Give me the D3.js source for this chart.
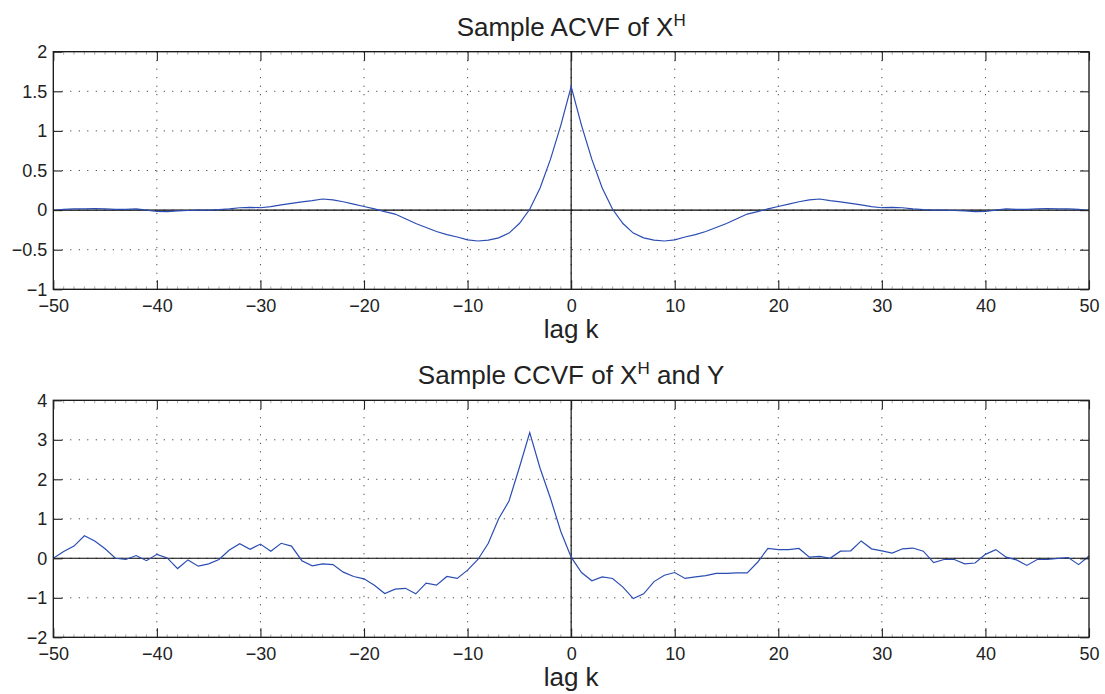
<!DOCTYPE html>
<html>
<head>
<meta charset="utf-8">
<script src="https://cdn.jsdelivr.net/npm/d3@7"></script>
<style>
  html, body { margin: 0; padding: 0; background: #fff; }
  svg { display: block; font-family: "Liberation Sans", Arial, Helvetica, sans-serif; }
</style>
</head>
<body>
<svg id="chart" width="1105" height="694"></svg>
<script>
// lags -50..50
const lags = d3.range(-50, 51);

// sample ACVF of X^H, lag -50 .. 50
const acvf = [
  -0.005, 0.01, 0.015, 0.015, 0.02, 0.015, 0.01, 0.01, 0.015, 0.0,
  -0.015, -0.02, -0.01, -0.005, 0.0, 0.0, 0.005, 0.015, 0.03, 0.035,
  0.03, 0.045, 0.065, 0.085, 0.105, 0.12, 0.14, 0.13, 0.105, 0.075,
  0.045, 0.015, -0.02, -0.05, -0.11, -0.17, -0.22, -0.27, -0.31, -0.34,
  -0.375, -0.39, -0.38, -0.35, -0.29, -0.17, 0.01, 0.28, 0.64, 1.07,
  1.56,
  1.07, 0.64, 0.28, 0.01, -0.17, -0.29, -0.35, -0.38, -0.39, -0.375,
  -0.34, -0.31, -0.27, -0.22, -0.17, -0.11, -0.05, -0.02, 0.015, 0.045,
  0.075, 0.105, 0.13, 0.14, 0.12, 0.105, 0.085, 0.065, 0.045, 0.03,
  0.035, 0.03, 0.015, 0.005, 0.0, 0.0, -0.005, -0.01, -0.02, -0.015,
  0.0, 0.015, 0.01, 0.01, 0.015, 0.02, 0.015, 0.015, 0.01, -0.005
];

// sample CCVF of X^H and Y, lag -50 .. 50
const ccvf = [
  0.0, 0.17, 0.31, 0.57, 0.44, 0.24, 0.0, -0.03, 0.07, -0.06,
  0.10, 0.01, -0.26, -0.04, -0.20, -0.14, -0.03, 0.21, 0.37, 0.23,
  0.36, 0.18, 0.38, 0.31, -0.06, -0.19, -0.14, -0.16, -0.35, -0.46,
  -0.52, -0.68, -0.89, -0.78, -0.76, -0.90, -0.63, -0.68, -0.46, -0.51,
  -0.30, -0.03, 0.38, 1.0, 1.45, 2.3, 3.18, 2.28, 1.52, 0.68,
  0.03,
  -0.36, -0.57, -0.47, -0.51, -0.73, -1.02, -0.90, -0.59, -0.43, -0.36,
  -0.51, -0.47, -0.44, -0.38, -0.38, -0.37, -0.37, -0.10, 0.25, 0.22,
  0.22, 0.25, 0.03, 0.05, 0.0, 0.18, 0.19, 0.44, 0.24, 0.19,
  0.13, 0.24, 0.26, 0.18, -0.11, -0.03, -0.03, -0.14, -0.12, 0.10,
  0.22, 0.03, -0.04, -0.18, -0.03, -0.03, 0.0, 0.02, -0.16, 0.06
];

const xTicks = [-50, -40, -30, -20, -10, 0, 10, 20, 30, 40, 50];
const acvfTicks = [-1, -0.5, 0, 0.5, 1, 1.5, 2];
const ccvfTicks = [-2, -1, 0, 1, 2, 3, 4];

const svg = d3.select("#chart");
const left = 53.3, right = 1089;
const fmt = d => String(d).replace("-", "\u2212");

function drawPanel(top, bottom, values, yTicks, titleParts) {
  const g = svg.append("g");
  const x = d3.scaleLinear().domain([-50, 50]).range([left, right]);
  const y = d3.scaleLinear().domain([yTicks[0], yTicks[yTicks.length - 1]]).range([bottom, top]);

  // dotted grid
  g.selectAll(".vgrid").data(xTicks.slice(1, -1)).join("line")
    .attr("x1", d => x(d)).attr("x2", d => x(d))
    .attr("y1", top).attr("y2", bottom)
    .attr("stroke", "#222").attr("stroke-width", 1)
    .attr("stroke-dasharray", "1,7.5");
  g.selectAll(".hgrid").data(yTicks.slice(1, -1)).join("line")
    .attr("y1", d => y(d)).attr("y2", d => y(d))
    .attr("x1", left).attr("x2", right)
    .attr("stroke", "#222").attr("stroke-width", 1)
    .attr("stroke-dasharray", "1,7.5");

  // minor ticks along top / bottom
  g.selectAll(".minor").data(lags.filter(d => d % 10 !== 0)).join("path")
    .attr("d", d => `M${x(d)},${top}v3M${x(d)},${bottom}v-3`)
    .attr("stroke", "#999").attr("stroke-width", 0.8);

  // zero axes
  g.append("line").attr("x1", left).attr("x2", right)
    .attr("y1", y(0)).attr("y2", y(0))
    .attr("stroke", "#000").attr("stroke-width", 1.1);
  g.append("line").attr("x1", x(0)).attr("x2", x(0))
    .attr("y1", top).attr("y2", bottom)
    .attr("stroke", "#000").attr("stroke-width", 1.1);

  // data line
  const line = d3.line().x((d, i) => x(lags[i])).y(d => y(d));
  g.append("path").datum(values)
    .attr("d", line)
    .attr("fill", "none")
    .attr("stroke", "#2b4db3")
    .attr("stroke-width", 1.2);

  // box with inward ticks
  g.append("rect").attr("x", left).attr("y", top)
    .attr("width", right - left).attr("height", bottom - top)
    .attr("fill", "none").attr("stroke", "#111").attr("stroke-width", 1.3);

  g.append("g").attr("transform", `translate(0,${bottom})`)
    .call(d3.axisBottom(x).tickValues(xTicks).tickSize(-9).tickPadding(10).tickFormat(fmt))
    .call(a => a.select(".domain").remove());
  g.append("g").attr("transform", `translate(0,${top})`)
    .call(d3.axisTop(x).tickValues(xTicks).tickSize(-9).tickFormat(""))
    .call(a => a.select(".domain").remove());
  g.append("g").attr("transform", `translate(${left},0)`)
    .call(d3.axisLeft(y).tickValues(yTicks).tickSize(-9).tickPadding(6).tickFormat(fmt))
    .call(a => a.select(".domain").remove());
  g.append("g").attr("transform", `translate(${right},0)`)
    .call(d3.axisRight(y).tickValues(yTicks).tickSize(-9).tickFormat(""))
    .call(a => a.select(".domain").remove());

  g.selectAll(".tick line").attr("stroke", "#222").attr("stroke-width", 1.1);
  g.selectAll(".tick text")
    .attr("font-family", "\"Liberation Sans\", Arial, sans-serif")
    .attr("font-size", 18).attr("fill", "#222");

  // title
  const t = g.append("text")
    .attr("x", (left + right) / 2).attr("y", top - 16)
    .attr("text-anchor", "middle")
    .attr("font-size", 26).attr("fill", "#222");
  t.append("tspan").text(titleParts[0]);
  t.append("tspan").attr("font-size", 17).attr("dy", -10).text("H");
  if (titleParts[1]) t.append("tspan").attr("dy", 10).text(titleParts[1]);

  // x label
  g.append("text")
    .attr("x", (left + right) / 2).attr("y", bottom + 49)
    .attr("text-anchor", "middle")
    .attr("font-size", 26).attr("fill", "#222")
    .text("lag k");
}

drawPanel(51.7, 289.3, acvf, acvfTicks, ["Sample ACVF of X"]);
drawPanel(400.3, 637.3, ccvf, ccvfTicks, ["Sample CCVF of X", " and Y"]);
</script>
</body>
</html>
